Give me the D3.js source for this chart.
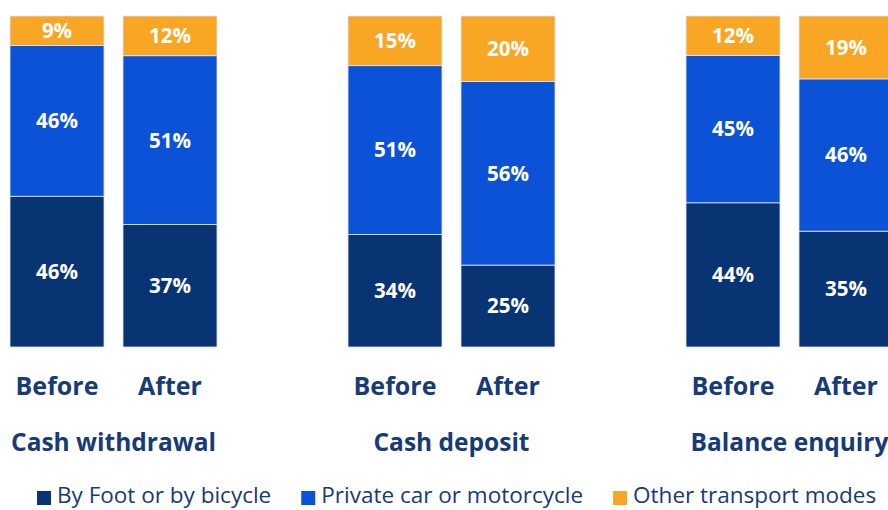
<!DOCTYPE html>
<html>
<head>
<meta charset="utf-8">
<script src="https://cdn.jsdelivr.net/npm/d3@7"></script>
<style>
  body { margin: 0; background: #fff; }
  svg { display: block; font-family: "Open Sans", sans-serif; }
</style>
</head>
<body>
<div id="chart"></div>
<script>
// DATA
let GROUPS = ["Cash withdrawal", "Cash deposit", "Balance enquiry"]
let PERIODS = ["Before", "After"]
let SERIES = ["By Foot or by bicycle", "Private car or motorcycle", "Other transport modes"]
let FOOT = [46, 37, 34, 25, 44, 35]
let CAR = [46, 51, 51, 56, 45, 46]
let OTHER = [9, 12, 15, 20, 12, 19]

let COLORS = ["#083473", "#0b52d6", "#f9a624"]
let TEXT_COLOR = "#173a78"

let width = 888, height = 510

// build rows: one per bar
let rows = []
GROUPS.forEach(function (g, gi) {
    PERIODS.forEach(function (p, pi) {
        let i = gi * 2 + pi
        rows.push({ group: g, period: p })
        rows[i][SERIES[0]] = FOOT[i]
        rows[i][SERIES[1]] = CAR[i]
        rows[i][SERIES[2]] = OTHER[i]
    })
})

let stacked = d3.stack()
    .keys(SERIES)
    .offset(d3.stackOffsetExpand)(rows)

let svg = d3.select("#chart")
    .append("svg")
    .attr("width", width)
    .attr("height", height)

// outer scale: groups, inner scale: before / after
let x0 = d3.scaleBand()
    .domain(GROUPS)
    .range([-55.5, 958.5])
let x1 = d3.scaleBand()
    .domain(PERIODS)
    .range([65.5, 272.5])
    .paddingInner(0.168)
let y = d3.scaleLinear()
    .domain([0, 1])
    .range([347, 16])

let barX = function (d) { return x0(d.data.group) + x1(d.data.period) }

let layers = svg.selectAll("g.layer")
    .data(stacked)
    .enter()
    .append("g")
    .attr("class", "layer")
    .attr("fill", function (d, i) { return COLORS[i] })

layers.selectAll("rect")
    .data(function (d) { return d })
    .enter()
    .append("rect")
    .attr("x", barX)
    .attr("y", function (d) { return y(d[1]) })
    .attr("width", x1.bandwidth())
    .attr("height", function (d) { return y(d[0]) - y(d[1]) })
    .attr("stroke", "#dfe8f5")
    .attr("stroke-width", 0.8)

// value labels
layers.each(function (layer) {
    d3.select(this).selectAll("text")
        .data(layer)
        .enter()
        .append("text")
        .attr("x", function (d) { return barX(d) + x1.bandwidth() / 2 })
        .attr("y", function (d) { return (y(d[0]) + y(d[1])) / 2 })
        .attr("dy", "0.36em")
        .attr("text-anchor", "middle")
        .attr("fill", "#fff")
        .style("font-size", "20.5px")
        .style("font-weight", 700)
        .text(function (d) { return d.data[layer.key] + "%" })
})

// period axis labels
svg.append("g")
    .selectAll("text")
    .data(rows)
    .enter()
    .append("text")
    .attr("x", function (d) { return x0(d.group) + x1(d.period) + x1.bandwidth() / 2 })
    .attr("y", 386)
    .attr("dy", "0.36em")
    .attr("text-anchor", "middle")
    .attr("fill", TEXT_COLOR)
    .style("font-size", "25px")
    .style("font-weight", 700)
    .text(function (d) { return d.period })

// group labels
svg.append("g")
    .selectAll("text")
    .data(GROUPS)
    .enter()
    .append("text")
    .attr("x", function (d) { return x0(d) + x0.bandwidth() / 2 })
    .attr("y", 442)
    .attr("dy", "0.36em")
    .attr("text-anchor", "middle")
    .attr("fill", TEXT_COLOR)
    .style("font-size", "24.5px")
    .style("font-weight", 700)
    .text(function (d) { return d })

// legend
let legend = svg.append("g").attr("transform", "translate(37,497)")
let lx = 0
SERIES.forEach(function (s, i) {
    let item = legend.append("g").attr("transform", "translate(" + lx + ",0)")
    item.append("rect")
        .attr("x", 0)
        .attr("y", -6)
        .attr("width", 14)
        .attr("height", 14)
        .attr("fill", COLORS[i])
    let t = item.append("text")
        .attr("x", 20)
        .attr("y", 6)
        .attr("fill", TEXT_COLOR)
        .style("font-size", "22.5px")
        .text(s)
    lx += 20 + t.node().getComputedTextLength() + 30
})
</script>
</body>
</html>
